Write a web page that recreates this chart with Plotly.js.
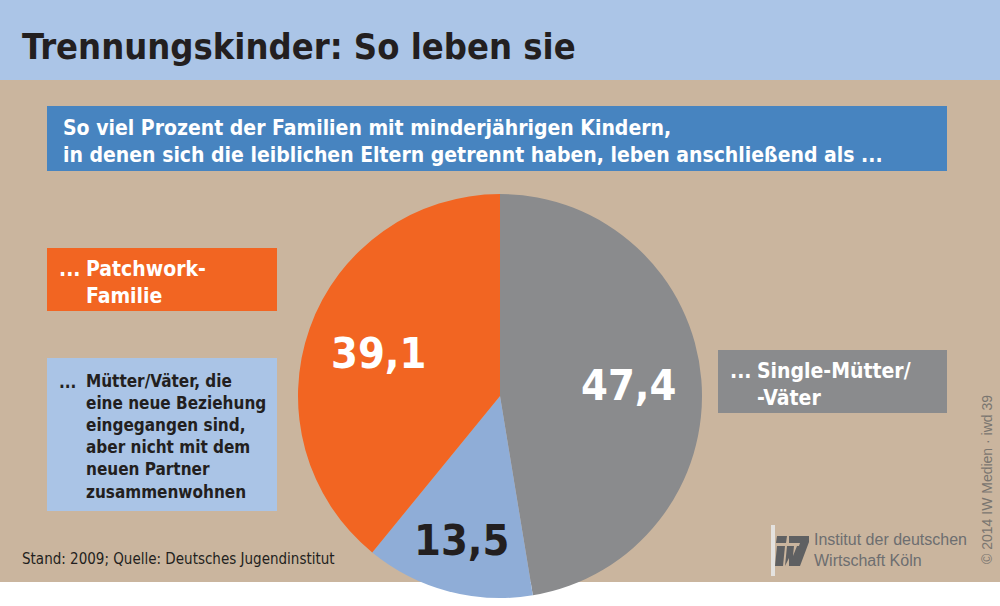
<!DOCTYPE html>
<html>
<head>
<meta charset="utf-8">
<script src="https://cdn.plot.ly/plotly-3.0.1.min.js"></script>
<style>html,body{margin:0;padding:0;background:#fff;}#chart{width:1000px;height:606px;}</style>
</head>
<body>
<div id="chart"></div>
<script>
// ---- data ----
const categories = ["Single-Mütter/-Väter", "Mütter/Väter mit neuer Beziehung, nicht zusammenwohnend", "Patchwork-Familie"];
const values = [47.4, 13.5, 39.1];
const valueLabels = ["47,4", "13,5", "39,1"];
const sliceColors = ["#8a8b8d", "#8fadd7", "#f26522"];
const labelColors = ["#ffffff", "#231f20", "#ffffff"];
const labelRadius = [0.64, 0.74, 0.64];

const titleText = "Trennungskinder: So leben sie";
const subtitleLines = ["So viel Prozent der Familien mit minderjährigen Kindern,", "in denen sich die leiblichen Eltern getrennt haben, leben anschließend als ..."];
const patchworkLines = ["Patchwork-", "Familie"];
const beziehungLines = ["Mütter/Väter, die", "eine neue Beziehung", "eingegangen sind,", "aber nicht mit dem", "neuen Partner", "zusammenwohnen"];
const singleLines = ["Single-Mütter/", "-Väter"];
const sourceText = "Stand: 2009; Quelle: Deutsches Jugendinstitut";
const logoLines = ["Institut der deutschen", "Wirtschaft Köln"];
const copyrightText = "© 2014 IW Medien · iwd 39";

// ---- layout constants ----
const W = 1000, H = 606;
const CX = 500, CY = 396, R = 202;
const COND = '"DejaVu Sans Condensed", "Liberation Sans Narrow", sans-serif';
const SANS = '"Liberation Sans", Arial, sans-serif';
const px = x => x / W;
const py = y => 1 - y / H;

function rect(x0, y0, x1, y1, color) {
  return {type: "rect", xref: "paper", yref: "paper", x0: px(x0), x1: px(x1), y0: py(y1), y1: py(y0),
          fillcolor: color, line: {width: 0}, layer: "below"};
}
function poly(points, color) {
  const d = points.map((p, i) => (i ? "L" : "M") + px(p[0]).toFixed(5) + "," + py(p[1]).toFixed(5)).join(" ") + " Z";
  return {type: "path", xref: "paper", yref: "paper", path: d, fillcolor: color, line: {width: 0}, layer: "below"};
}
function ann(text, x, y, size, color, weight, opts) {
  return Object.assign({text: text, xref: "paper", yref: "paper", x: px(x), y: py(y),
    xanchor: "left", yanchor: "middle", align: "left", showarrow: false,
    font: {family: COND, size: size, color: color, weight: weight || 400}}, opts || {});
}

const LOGO = "#5f6062";
const shapes = [
  rect(0, 0, 1000, 80, "#abc5e7"),
  rect(0, 80, 1000, 582, "#cab59e"),
  rect(47, 106, 947, 171, "#4784c0"),
  rect(47, 248, 277, 311, "#f26522"),
  rect(47, 358, 277, 511, "#aac4e6"),
  rect(718, 350, 947, 413, "#8a8b8d"),
  rect(771, 525, 775, 576, "#e4e2df"),
  // IW logo mark
  poly([[777,536],[787,536],[786,543],[776,543]], LOGO),
  poly([[789,536],[809,536],[809,542],[800,566],[792,566],[800,543],[789,543]], LOGO),
  poly([[777,546],[785,546],[783,566],[775,566]], LOGO),
  poly([[787,546],[794,546],[793,556],[797,546],[801,546],[796,566],[789,566],[789,558],[785,566]], LOGO)
];

const annotations = [
  ann(titleText, 20, 46, 36, "#231f20", 700),
  ann(subtitleLines.join("<br>"), 61, 141, 21, "#ffffff", 700),
  ann("...", 57, 269, 21, "#ffffff", 700),
  ann(patchworkLines.join("<br>"), 84, 282, 21, "#ffffff", 700),
  ann("...", 57, 382, 17, "#231f20", 700),
  ann(beziehungLines.join("<br>"), 84, 436, 17, "#231f20", 700),
  ann("...", 728, 371, 21, "#ffffff", 700),
  ann(singleLines.join("<br>"), 755, 384, 21, "#ffffff", 700),
  ann(sourceText, 20, 559, 15, "#231f20", 400),
  ann(logoLines.join("<br>"), 812, 550, 16, "#6d6e70", 400, {font: {family: SANS, size: 16, color: "#6d6e70"}}),
  ann(copyrightText, 987, 480, 14, "#7a7670", 400, {xanchor: "center", textangle: -90, font: {family: SANS, size: 14, color: "#7a7670"}})
];

// value labels positioned from the data (mid-angle of each slice)
const total = values.reduce((a, b) => a + b, 0);
let cum = 0;
values.forEach((v, i) => {
  const mid = (cum + v / 2) / total * 2 * Math.PI;
  cum += v;
  const x = CX + labelRadius[i] * R * Math.sin(mid);
  const y = CY - labelRadius[i] * R * Math.cos(mid);
  annotations.push({text: valueLabels[i], xref: "paper", yref: "paper", x: px(x), y: py(y),
    xanchor: "center", yanchor: "middle", showarrow: false,
    font: {family: COND, size: 43, color: labelColors[i], weight: 700}});
});

const trace = {
  type: "pie", labels: categories, values: values, sort: false, direction: "clockwise", rotation: 0,
  marker: {colors: sliceColors, line: {width: 0}}, textinfo: "none", hoverinfo: "none", showlegend: false,
  domain: {x: [px(CX - R), px(CX + R)], y: [py(CY + R), py(CY - R)]}
};

const layout = {
  width: W, height: H, margin: {l: 0, r: 0, t: 0, b: 0},
  paper_bgcolor: "#ffffff", plot_bgcolor: "#ffffff",
  shapes: shapes, annotations: annotations, showlegend: false
};
Plotly.newPlot("chart", [trace], layout, {displayModeBar: false, staticPlot: true});
</script>
</body>
</html>
